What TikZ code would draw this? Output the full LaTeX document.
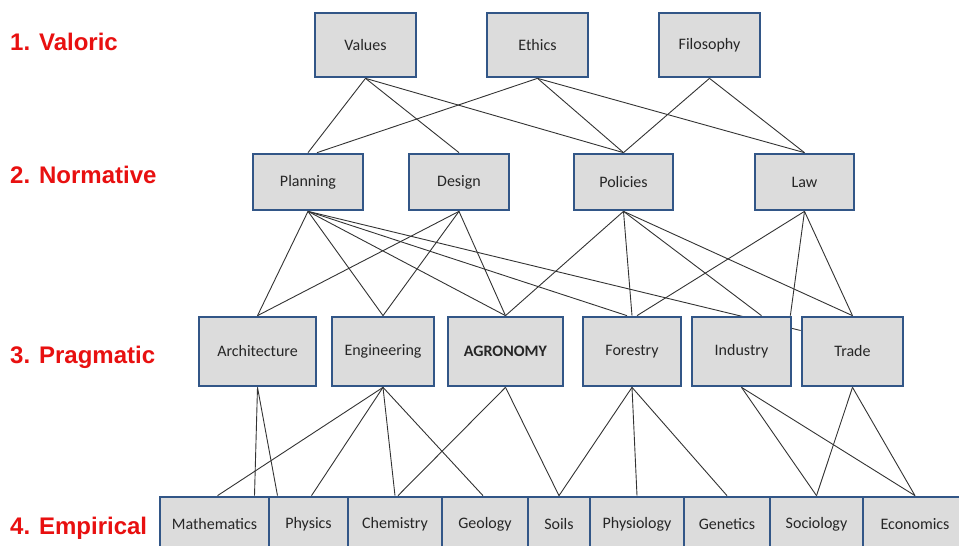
\documentclass[tikz,border=0pt]{standalone}
\usepackage{fontspec}
\setmainfont{Carlito}
\newfontfamily\levelfont{Liberation Sans}
\usetikzlibrary{backgrounds}
\definecolor{boxblue}{RGB}{50,86,135}
\definecolor{boxgray}{RGB}{220,220,220}
\definecolor{levelred}{RGB}{232,16,16}
\tikzset{
  field/.style={
    draw=boxblue,
    fill=boxgray,
    line width=2.7pt,
    inner sep=0pt,
    text=black!85
  },
  level/.style={
    anchor=base west,
    inner sep=0pt,
    text=levelred,
    font=\levelfont\bfseries\fontsize{24}{28}\selectfont
  },
  link/.style={
    draw=black!80,
    line width=0.9pt
  },
  every picture/.style={
    x=1pt, y=-1pt,
    font=\fontsize{16}{19}\selectfont
  }
}
\begin{document}
\begin{tikzpicture}
  \clip (0,0) rectangle (959,546);
  \useasboundingbox (0,0) rectangle (959,546);
  % levels
  \node[level] (l1) at (10,50) {1. Valoric};
  \node[level] (l2) at (10,183) {2. Normative};
  \node[level] (l3) at (10,363) {3. Pragmatic};
  \node[level] (l4) at (10,534) {4. Empirical};
  % boxes, row by row
  \foreach \n/\x/\w/\t in {val/365.5/101/Values, eth/537.5/101/Ethics,
      fil/709.5/101/Filosophy}
    \node[field, minimum width=\w, minimum height=64] (\n) at (\x,45) {\t};
  \foreach \n/\x/\w/\t in {plan/308/110/Planning, des/459/100/Design,
      pol/623.5/99/Policies, law/804.5/99/Law}
    \node[field, minimum width=\w, minimum height=56] (\n) at (\x,182) {\t};
  \foreach \n/\x/\w/\t in {arch/257.5/117/Architecture, eng/383/102/Engineering,
      agro/505.5/115/\textbf{AGRONOMY}, for/632/98/Forestry,
      ind/741.5/99/Industry, trade/852.5/101/Trade}
    \node[field, minimum width=\w, minimum height=69] (\n) at (\x,351.5) {\t};
  \foreach \n/\x/\w/\t in {math/214.5/109/Mathematics, phys/308.5/79/Physics,
      chem/395/94/Chemistry, geo/485/86/Geology, soil/559/62/Soils,
      phy/637/94/Physiology, gen/727/86/Genetics, soc/816.5/93/Sociology,
      eco/915/104/Economics}
    \node[field, minimum width=\w, minimum height=54] (\n) at (\x,524) {\t};
  \begin{scope}[on background layer]
    % valoric -> normative
    \foreach \a/\b in {val/plan, val/des, val/pol, eth/pol, eth/law, fil/pol, fil/law}
      \draw[link] (\a.south) -- (\b.north);
    \draw[link] (eth.south) -- ([xshift=9]plan.north);
    % normative -> pragmatic
    \foreach \a/\b in {plan/arch, plan/eng, plan/agro, des/arch, des/eng,
        des/agro, pol/agro, pol/for, pol/trade, law/trade}
      \draw[link] (\a.south) -- (\b.north);
    \draw[link] (plan.south) -- ([xshift=-5]for.north);
    \draw[link] (plan.south) -- ([yshift=21]trade.west);
    \draw[link] (pol.south) -- ([xshift=20]ind.north);
    \draw[link] (law.south) -- ([xshift=5]for.north);
    \draw[link] (law.south) -- ([xshift=-2]ind.north east);
    % pragmatic -> empirical
    \draw[link] (arch.south) -- ([xshift=40]math.north);
    \draw[link] (arch.south) -- ([xshift=-31]phys.north);
    \draw[link] (eng.south) -- ([xshift=3]math.north);
    \draw[link] (eng.south) -- ([xshift=3]phys.north);
    \draw[link] (eng.south) -- (chem.north);
    \draw[link] (eng.south) -- ([xshift=-2]geo.north);
    \draw[link] (agro.south) -- ([xshift=3]chem.north);
    \foreach \a/\b in {agro/soil, for/soil, for/phy, for/gen, ind/soc, ind/eco,
        trade/soc, trade/eco}
      \draw[link] (\a.south) -- (\b.north);
  \end{scope}
\end{tikzpicture}
\end{document}
